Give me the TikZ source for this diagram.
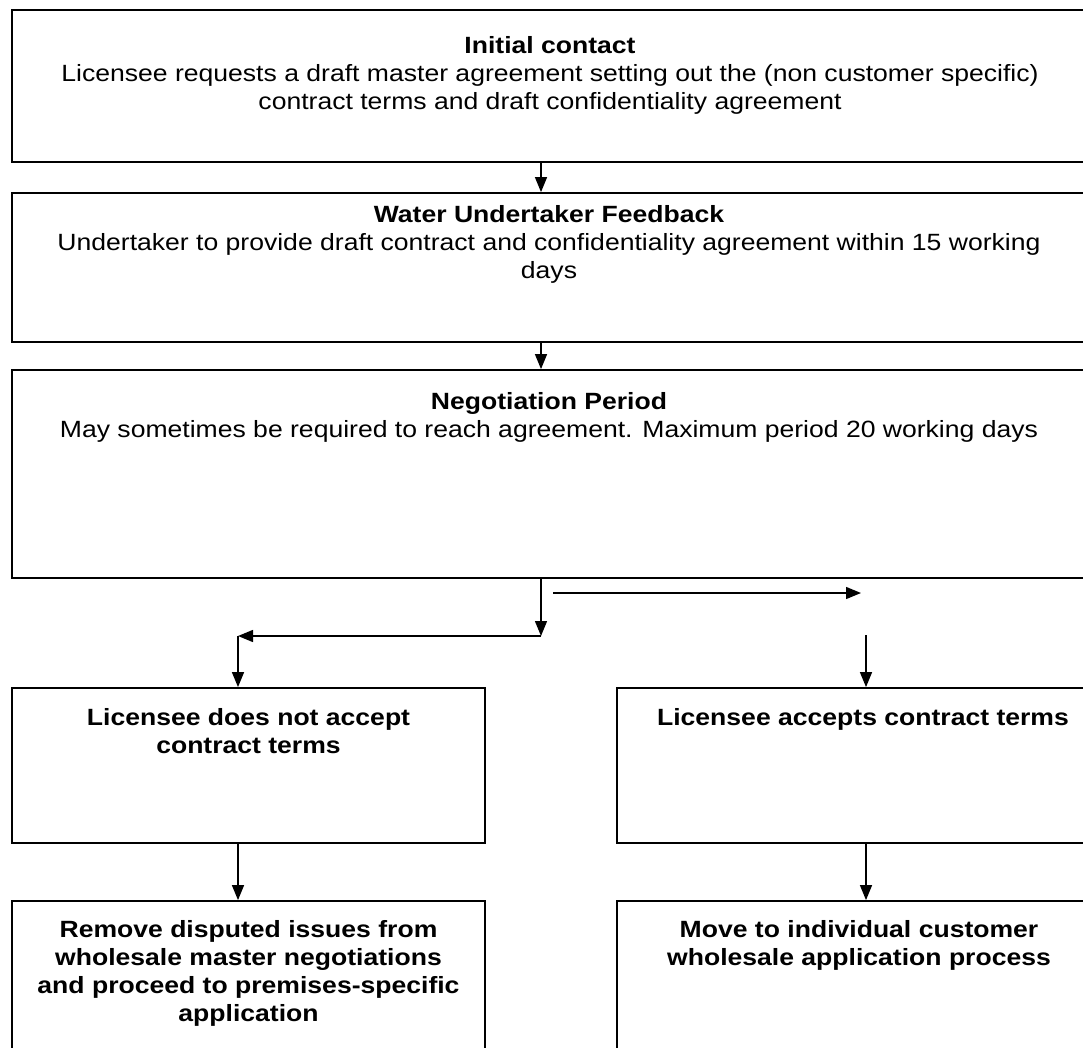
\documentclass[tikz,border=0pt]{standalone}
\usepackage{fontspec}
\setmainfont{Liberation Sans}[FakeStretch=1.13]
\usetikzlibrary{arrows.meta}
\begin{document}
\begin{tikzpicture}[x=1pt,y=-1pt,
  box/.style={draw, line width=1.8pt, inner sep=0pt},
  txt/.style={anchor=north, align=center, inner sep=0pt, font=\fontsize{23.5}{28}\selectfont},
  btxt/.style={txt, font=\fontsize{23.5}{28}\selectfont\bfseries},
  arr/.style={line width=1.4pt, -{Triangle[length=15pt,width=12pt]}}]
\useasboundingbox (0,0) rectangle (1083,1048);
\clip (0,0) rectangle (1083,1048);
% boxes
\node[box, minimum width=1078pt, minimum height=152pt] (b1) at (551,86) {};
\node[box, minimum width=1078pt, minimum height=149pt] (b2) at (551,267.5) {};
\node[box, minimum width=1078pt, minimum height=208pt] (b3) at (551,474) {};
\node[box, minimum width=473pt, minimum height=155pt] (b4l) at (248.5,765.5) {};
\node[box, minimum width=488pt, minimum height=155pt] (b4r) at (861,765.5) {};
\node[box, minimum width=473pt, minimum height=170pt] (b5l) at (248.5,986) {};
\node[box, minimum width=488pt, minimum height=170pt] (b5r) at (861,986) {};
% texts
\node[txt] (t1) at (550,36) {\textbf{Initial contact}\\Licensee requests a draft master agreement setting out the (non customer specific)\\contract terms and draft confidentiality agreement};
\node[txt] (t2) at (549,205) {\textbf{Water Undertaker Feedback}\\Undertaker to provide draft contract and confidentiality agreement within 15 working\\days};
\node[txt] (t3) at (549,392) {\textbf{Negotiation Period}\\May sometimes be required to reach agreement. Maximum period 20 working days};
\node[btxt] (t4l) at (248.5,708) {Licensee does not accept\\contract terms};
\node[btxt] (t4r) at (863,708) {Licensee accepts contract terms};
\node[btxt] (t5l) at (248.5,920) {Remove disputed issues from\\wholesale master negotiations\\and proceed to premises-specific\\application};
\node[btxt] (t5r) at (859,920) {Move to individual customer\\wholesale application process};
% connector coordinates
\coordinate (m) at (541,0);
\coordinate (j) at (541,636);
\coordinate (jl) at (238,636);
\coordinate (ra) at (553,593);
\coordinate (rb) at (861,593);
\coordinate (rc) at (866,635);
% connectors
\draw[arr] (b1.south -| m) -- (b2.north -| m);
\draw[arr] (b2.south -| m) -- (b3.north -| m);
\draw[arr] (b3.south -| m) -- (j);
\draw[arr] (j) -- (jl);
\draw[arr] (jl) -- (b4l.north -| jl);
\draw[arr] (ra) -- (rb);
\draw[arr] (rc) -- (b4r.north -| rc);
\draw[arr] (b4l.south -| jl) -- (b5l.north -| jl);
\draw[arr] (b4r.south -| rc) -- (b5r.north -| rc);
\end{tikzpicture}
\end{document}
